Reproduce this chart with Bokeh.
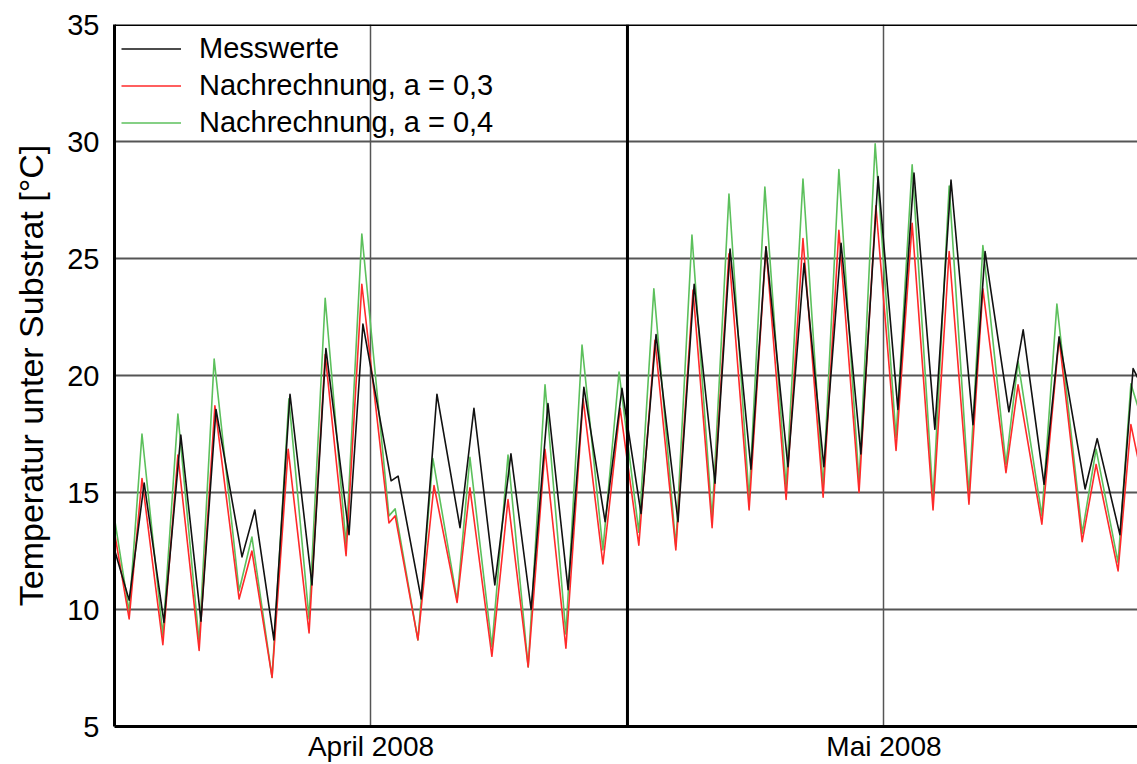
from bokeh.plotting import figure
from bokeh.models import Range1d, FixedTicker, Span, Legend, LegendItem
from bokeh.embed import file_html
from bokeh.resources import INLINE

# time axis: days since 2008-04-17 00:00
t_mess = [0.01, 0.40, 0.81, 1.35, 1.81, 2.36, 2.77, 3.48, 3.83, 4.35, 4.79, 5.39, 5.77, 6.40, 6.78,
          7.55, 7.74, 8.37, 8.80, 9.43, 9.81, 10.38, 10.82, 11.37, 11.83, 12.38, 12.81, 13.39, 13.85,
          14.37, 14.78, 15.38, 15.82, 16.39, 16.80, 17.37, 17.78, 18.38, 18.82, 19.36, 19.83, 20.37,
          20.84, 21.38, 21.82, 22.39, 22.83, 23.43, 23.76, 24.41, 24.80, 25.37, 25.78, 26.49, 26.82,
          27.44, 27.80, 28.02]
v_mess = [12.5, 10.4, 15.4, 9.45, 17.45, 9.5, 18.55, 12.25, 14.25, 8.7, 19.2, 11.05, 21.15, 13.2, 22.2,
          15.5, 15.7, 10.45, 19.2, 13.5, 18.6, 11.05, 16.65, 10.0, 18.8, 10.85, 19.5, 13.75, 19.45,
          14.1, 21.75, 13.75, 23.9, 15.4, 25.4, 16.0, 25.5, 16.1, 24.8, 16.1, 25.65, 16.65,
          28.5, 18.55, 28.65, 17.7, 28.35, 17.9, 25.3, 18.45, 21.95, 15.35, 21.65, 15.15, 17.3,
          13.2, 20.3, 19.6]

t_a03 = [0.01, 0.40, 0.75, 1.32, 1.73, 2.31, 2.74, 3.40, 3.75, 4.30, 4.74, 5.31, 5.75, 6.32, 6.75,
         7.49, 7.66, 8.28, 8.72, 9.35, 9.70, 10.30, 10.74, 11.29, 11.75, 12.32, 12.79, 13.33, 13.80,
         14.31, 14.75, 15.32, 15.79, 16.31, 16.77, 17.32, 17.78, 18.33, 18.79, 19.34, 19.77, 20.32,
         20.78, 21.33, 21.77, 22.34, 22.78, 23.32, 23.70, 24.33, 24.66, 25.31, 25.78, 26.41, 26.79,
         27.39, 27.74, 28.02]
v_a03 = [13.2, 9.6, 15.6, 8.5, 16.6, 8.25, 18.7, 10.45, 12.5, 7.1, 16.85, 9.0, 20.9, 12.3, 23.9,
         13.7, 14.0, 8.7, 15.3, 10.3, 15.2, 8.0, 14.7, 7.55, 16.85, 8.35, 19.0, 11.95, 18.6,
         12.75, 21.5, 12.55, 23.65, 13.5, 25.2, 14.25, 25.5, 14.7, 25.85, 14.8, 26.2, 15.0,
         27.25, 16.8, 26.5, 14.25, 25.3, 14.5, 23.7, 15.85, 19.6, 13.65, 21.6, 12.9, 16.2,
         11.65, 17.9, 15.8]

t_a04 = [0.01, 0.40, 0.75, 1.32, 1.73, 2.31, 2.72, 3.40, 3.75, 4.30, 4.76, 5.31, 5.75, 6.32, 6.75,
         7.49, 7.66, 8.28, 8.69, 9.35, 9.70, 10.30, 10.74, 11.29, 11.75, 12.32, 12.76, 13.33, 13.77,
         14.31, 14.72, 15.32, 15.76, 16.31, 16.77, 17.32, 17.75, 18.33, 18.79, 19.34, 19.77, 20.32,
         20.76, 21.33, 21.77, 22.34, 22.78, 23.32, 23.70, 24.33, 24.66, 25.31, 25.72, 26.41, 26.79,
         27.39, 27.74, 28.02]
v_a04 = [13.8, 9.9, 17.5, 8.9, 18.35, 8.6, 20.7, 10.8, 13.1, 7.1, 19.0, 9.6, 23.3, 12.75, 26.05,
         14.0, 14.3, 8.7, 16.45, 10.4, 16.5, 8.4, 16.6, 7.55, 19.6, 8.95, 21.3, 12.55, 20.15,
         13.3, 23.7, 12.7, 26.0, 13.85, 27.75, 14.7, 28.05, 15.2, 28.4, 15.2, 28.8, 15.4,
         29.9, 17.35, 29.0, 14.7, 28.1, 14.9, 25.55, 16.2, 20.6, 14.0, 23.05, 13.25, 16.85,
         12.0, 19.65, 18.2]

series_labels = ["Messwerte", "Nachrechnung, a = 0,3", "Nachrechnung, a = 0,4"]
month_ticks = [7, 21]
month_labels = ["April 2008", "Mai 2008"]
month_boundary = 14
y_ticks = [5, 10, 15, 20, 25, 30, 35]

FONT = "Liberation Sans"

p = figure(width=1137, height=764, output_backend="svg", toolbar_location=None,
           x_range=Range1d(0, 27.92), y_range=Range1d(5, 35),
           min_border_left=114, min_border_right=0, min_border_top=24, min_border_bottom=38)
p.outline_line_color = None
p.background_fill_color = "white"

# grids
p.xgrid.ticker = FixedTicker(ticks=month_ticks)
p.xgrid.grid_line_color = "#555555"
p.xgrid.grid_line_width = 1.5
p.ygrid.ticker = FixedTicker(ticks=y_ticks)
p.ygrid.grid_line_color = "#555555"
p.ygrid.grid_line_width = 1.8

p.add_layout(Span(location=month_boundary, dimension="height", line_color="black", line_width=3))
p.add_layout(Span(location=35, dimension="width", line_color="black", line_width=3))

# axes
p.yaxis.ticker = FixedTicker(ticks=y_ticks)
p.yaxis.major_label_text_font = FONT
p.yaxis.major_label_text_font_size = "29px"
p.yaxis.major_label_text_color = "black"
p.yaxis.major_label_standoff = 15
p.yaxis.major_tick_line_color = None
p.yaxis.major_tick_out = 0
p.yaxis.major_tick_in = 0
p.yaxis.minor_tick_line_color = None
p.yaxis.axis_line_width = 3
p.yaxis.axis_line_color = "black"
p.yaxis.axis_label = "Temperatur unter Substrat [°C]"
p.yaxis.axis_label_text_font = FONT
p.yaxis.axis_label_text_font_size = "34px"
p.yaxis.axis_label_text_font_style = "normal"
p.yaxis.axis_label_text_color = "black"
p.yaxis.axis_label_standoff = 14

p.xaxis.ticker = FixedTicker(ticks=month_ticks)
p.xaxis.major_label_overrides = {k: v for k, v in zip(month_ticks, month_labels)}
p.xaxis.major_label_text_font = FONT
p.xaxis.major_label_text_font_size = "28px"
p.xaxis.major_label_text_color = "black"
p.xaxis.major_label_standoff = 4
p.xaxis.major_tick_line_color = None
p.xaxis.major_tick_out = 0
p.xaxis.major_tick_in = 0
p.xaxis.minor_tick_line_color = None
p.xaxis.axis_line_width = 3
p.xaxis.axis_line_color = "black"

# lines
r_g = p.line(t_a04, v_a04, line_color="#5cc05c", line_width=1.6, line_join="round")
r_r = p.line(t_a03, v_a03, line_color="#ff2a2a", line_width=1.6, line_join="round")
r_b = p.line(t_mess, v_mess, line_color="#111111", line_width=1.6, line_join="round")

legend = Legend(items=[LegendItem(label=series_labels[0], renderers=[r_b]),
                       LegendItem(label=series_labels[1], renderers=[r_r]),
                       LegendItem(label=series_labels[2], renderers=[r_g])],
                location="top_left")
legend.label_text_font = FONT
legend.label_text_font_size = "29px"
legend.label_text_color = "black"
legend.glyph_width = 60
legend.glyph_height = 35
legend.label_height = 35
legend.label_standoff = 18
legend.spacing = 2
legend.padding = 0
legend.margin = 7
legend.border_line_color = None
legend.background_fill_alpha = 0
p.add_layout(legend)

open("out.html", "w").write(file_html(p, INLINE))
